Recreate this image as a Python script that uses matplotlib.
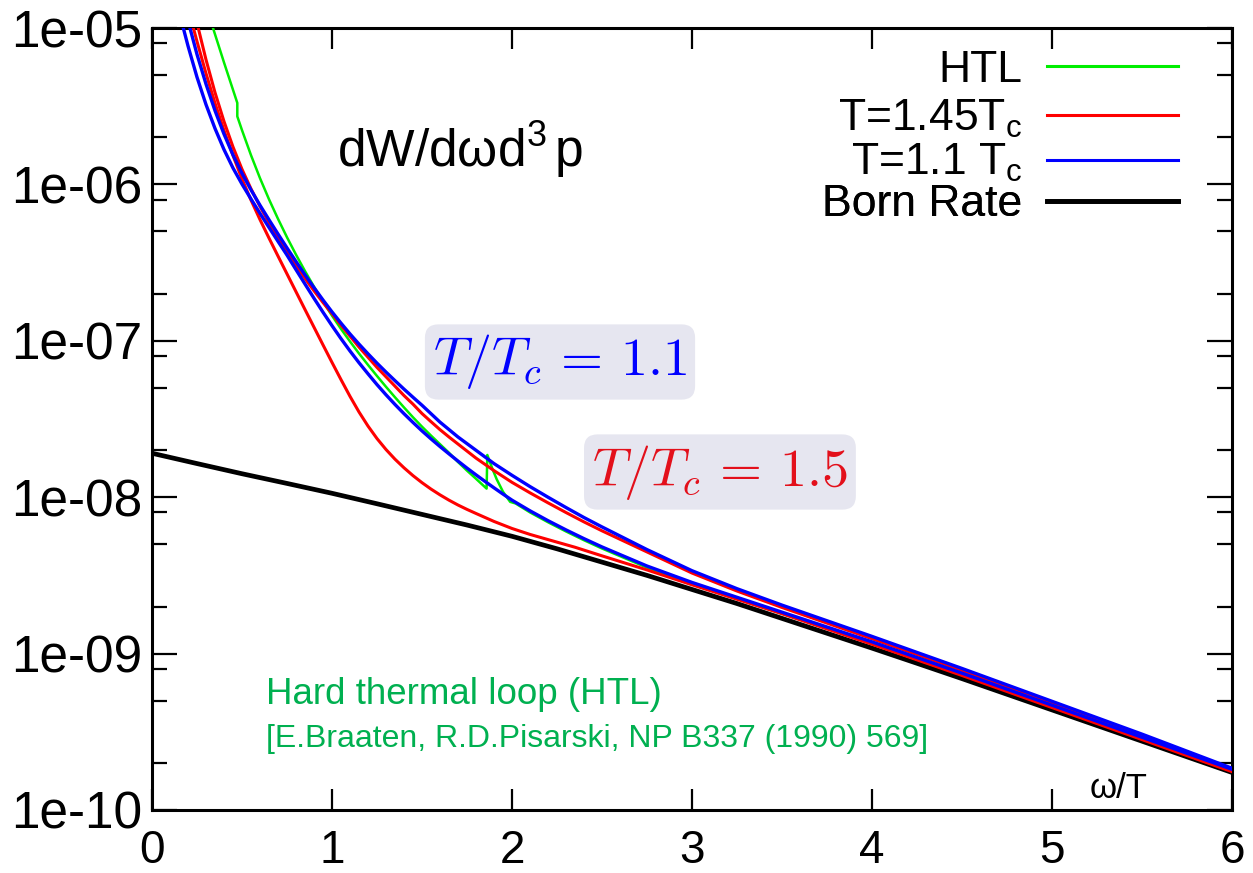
import numpy as np
import matplotlib
matplotlib.use('Agg')
import matplotlib.pyplot as plt
from matplotlib.lines import Line2D
from matplotlib.ticker import FixedLocator, LogLocator, NullFormatter

plt.rcParams['font.family'] = ['Liberation Sans', 'DejaVu Sans']
plt.rcParams['mathtext.fontset'] = 'custom'
plt.rcParams['mathtext.rm'] = 'Liberation Sans'
plt.rcParams['mathtext.it'] = 'Liberation Sans:italic'
plt.rcParams['mathtext.bf'] = 'Liberation Sans:bold'

# all rates given as log10(dW/dw d3p)
born_x = [0, 0.25, 0.5, 0.75, 1, 1.25, 1.5, 1.75, 2, 2.25, 2.5, 2.75, 3,
          3.25, 3.5, 3.75, 4, 4.25, 4.5, 4.75, 5, 5.25, 5.5, 5.75, 6]
born_log = [-7.719, -7.785, -7.85, -7.912, -7.975, -8.042, -8.11, -8.178,
            -8.25, -8.33, -8.415, -8.50, -8.59, -8.68, -8.775, -8.87, -8.965,
            -9.062, -9.16, -9.26, -9.36, -9.46, -9.56, -9.66, -9.76]

# HTL: small kink near 0.47, spike near 1.86
htl_x = [0.3, 0.339, 0.4, 0.474, 0.474, 0.5, 0.55, 0.6, 0.65, 0.7, 0.75, 0.8,
         0.85, 0.9, 0.95, 1.0, 1.05, 1.1, 1.15, 1.2, 1.25, 1.3, 1.35, 1.4,
         1.45, 1.5, 1.55, 1.6, 1.65, 1.7, 1.75, 1.8, 1.859, 1.863, 1.89,
         1.915, 1.95, 1.99, 2.02, 2.1, 2.2, 2.3, 2.4, 2.5, 2.75, 3, 3.5, 4,
         4.5, 5, 5.5, 6]
htl_log = [-4.85, -5.0, -5.22, -5.479, -5.565, -5.653, -5.813, -5.96, -6.095,
           -6.22, -6.338, -6.449, -6.554, -6.654, -6.749, -6.839, -6.924,
           -7.004, -7.081, -7.154, -7.225, -7.294, -7.361, -7.426, -7.489,
           -7.549, -7.606, -7.661, -7.716, -7.775, -7.83, -7.882, -7.945,
           -7.73, -7.815, -7.885, -7.965, -8.03, -8.04, -8.097, -8.16, -8.219,
           -8.275, -8.328, -8.45, -8.555, -8.745, -8.935, -9.135, -9.34,
           -9.545, -9.75]

# T = 1.45 Tc (two curves)
red_lo_x = [0.2, 0.23, 0.25, 0.3, 0.35, 0.4, 0.45, 0.5, 0.55, 0.6, 0.65, 0.7,
            0.75, 0.8, 0.85, 0.9, 0.95, 1.0, 1.05, 1.1, 1.15, 1.2, 1.25, 1.3,
            1.35, 1.4, 1.45, 1.5, 1.55, 1.6, 1.65, 1.7, 1.75, 1.8, 1.9, 2.0,
            2.1, 2.2, 2.35, 2.5, 2.75, 3.0, 3.5, 4.0, 4.5, 5.0, 5.5, 6.0]
red_lo_log = [-4.87, -5.0, -5.085, -5.29, -5.48, -5.655, -5.815, -5.965, -6.1,
              -6.225, -6.343, -6.458, -6.572, -6.686, -6.8, -6.913, -7.026,
              -7.138, -7.248, -7.355, -7.455, -7.545, -7.625, -7.695, -7.757,
              -7.812, -7.862, -7.907, -7.948, -7.985, -8.019, -8.05, -8.078,
              -8.104, -8.155, -8.2, -8.238, -8.271, -8.32, -8.375, -8.465,
              -8.56, -8.745, -8.94, -9.14, -9.345, -9.55, -9.755]
red_hi_x = [0.2, 0.257, 0.3, 0.35, 0.4, 0.45, 0.5, 0.55, 0.6, 0.65, 0.7, 0.75,
            0.8, 0.85, 0.9, 0.95, 1.0, 1.05, 1.1, 1.15, 1.2, 1.25, 1.3, 1.35,
            1.4, 1.45, 1.5, 1.55, 1.6, 1.65, 1.7, 1.8, 1.9, 2.0, 2.1, 2.2, 2.3,
            2.4, 2.5, 2.75, 3.0, 3.25, 3.5, 4.0, 4.5, 5.0, 5.5, 6.0]
red_hi_log = [-4.74, -5.0, -5.202, -5.412, -5.597, -5.76, -5.903, -6.028,
              -6.141, -6.244, -6.34, -6.431, -6.518, -6.601, -6.68, -6.755,
              -6.826, -6.9, -6.97, -7.04, -7.105, -7.17, -7.23, -7.29, -7.35,
              -7.405, -7.465, -7.517, -7.568, -7.615, -7.66, -7.75, -7.83,
              -7.905, -7.972, -8.036, -8.098, -8.158, -8.215, -8.35, -8.485,
              -8.6, -8.705, -8.905, -9.108, -9.315, -9.525, -9.74]

# T = 1.1 Tc (two curves)
blue_lo_x = [0.15, 0.174, 0.2, 0.25, 0.3, 0.35, 0.4, 0.45, 0.5, 0.55, 0.6,
             0.65, 0.7, 0.75, 0.8, 0.85, 0.9, 0.95, 1.0, 1.05, 1.1, 1.15, 1.2,
             1.25, 1.3, 1.35, 1.4, 1.45, 1.5, 1.55, 1.6, 1.65, 1.7, 1.75, 1.8,
             1.85, 1.9, 1.95, 2.0, 2.1, 2.2, 2.3, 2.4, 2.5, 2.75, 3.0, 3.5,
             4.0, 4.5, 5.0, 5.5, 6.0]
blue_lo_log = [-4.88, -5.0, -5.114, -5.314, -5.489, -5.642, -5.777, -5.895,
               -5.998, -6.093, -6.185, -6.275, -6.364, -6.452, -6.545, -6.637,
               -6.728, -6.817, -6.903, -6.986, -7.065, -7.14, -7.211, -7.28,
               -7.345, -7.407, -7.466, -7.522, -7.576, -7.627, -7.676, -7.723,
               -7.769, -7.814, -7.857, -7.899, -7.94, -7.98, -8.019, -8.087,
               -8.15, -8.209, -8.265, -8.318, -8.44, -8.545, -8.735, -8.925,
               -9.125, -9.33, -9.535, -9.74]
blue_hi_x = [0.17, 0.211, 0.25, 0.3, 0.35, 0.4, 0.45, 0.5, 0.55, 0.6, 0.65,
             0.7, 0.75, 0.8, 0.85, 0.9, 0.95, 1.0, 1.05, 1.1, 1.15, 1.2, 1.25,
             1.3, 1.35, 1.4, 1.45, 1.5, 1.55, 1.6, 1.7, 1.8, 1.9, 2.0, 2.1,
             2.2, 2.3, 2.4, 2.5, 2.75, 3.0, 3.25, 3.5, 4.0, 4.5, 5.0, 5.5, 6.0]
blue_hi_log = [-4.8, -5.0, -5.168, -5.358, -5.528, -5.678, -5.811, -5.929,
               -6.035, -6.133, -6.226, -6.317, -6.406, -6.493, -6.578, -6.66,
               -6.739, -6.815, -6.887, -6.956, -7.021, -7.083, -7.143, -7.2,
               -7.255, -7.309, -7.361, -7.412, -7.466, -7.52, -7.615, -7.70,
               -7.785, -7.86, -7.932, -8.0, -8.066, -8.13, -8.19, -8.335,
               -8.47, -8.585, -8.69, -8.89, -9.095, -9.305, -9.515, -9.733]

x_ticks = [0, 1, 2, 3, 4, 5, 6]
y_ticks = [1e-10, 1e-09, 1e-08, 1e-07, 1e-06, 1e-05]
y_tick_labels = ['1e-10', '1e-09', '1e-08', '1e-07', '1e-06', '1e-05']

fig = plt.figure(figsize=(12.53, 8.73), dpi=100)
ax = fig.add_axes([0.1213, 0.0722, 0.8619, 0.8957])

ax.plot(born_x, 10 ** np.array(born_log), color='black', lw=3.4, zorder=2)
ax.plot(htl_x, 10 ** np.array(htl_log), color='#00ee00', lw=1.8, zorder=3)
ax.plot(red_lo_x, 10 ** np.array(red_lo_log), color='#ff0000', lw=2.2, zorder=4)
ax.plot(red_hi_x, 10 ** np.array(red_hi_log), color='#ff0000', lw=2.2, zorder=4)
ax.plot(blue_lo_x, 10 ** np.array(blue_lo_log), color='#0000ff', lw=2.4, zorder=5)
ax.plot(blue_hi_x, 10 ** np.array(blue_hi_log), color='#0000ff', lw=2.4, zorder=5)

ax.set_yscale('log')
ax.set_xlim(0, 6)
ax.set_ylim(1e-10, 1e-05)
ax.set_xticks(x_ticks)
ax.set_xticklabels([str(t) for t in x_ticks])
ax.yaxis.set_major_locator(FixedLocator(y_ticks))
ax.set_yticklabels(y_tick_labels)
ax.yaxis.set_minor_locator(LogLocator(base=10, subs=[2, 5, 8]))
ax.yaxis.set_minor_formatter(NullFormatter())

for s in ax.spines.values():
    s.set_linewidth(2.2)
ax.tick_params(axis='both', which='both', direction='in', top=True, right=True,
               width=1.6)
ax.tick_params(axis='x', which='major', length=15, pad=14, labelsize=33)
ax.tick_params(axis='y', which='major', length=18, pad=7, labelsize=37)
ax.tick_params(axis='y', which='minor', length=11)
ax.tick_params(axis='x', which='minor', bottom=False, top=False)

# key: one row per legend so the rows sit evenly like the gnuplot key
keys = [(Line2D([], [], color='#00ee00', lw=2.2), 'HTL', 0.946),
        (Line2D([], [], color='#ff0000', lw=2.2), r'T=1.45T$_{\mathregular{c}}$', 0.884),
        (Line2D([], [], color='#0000ff', lw=2.2), r'T=1.1 T$_{\mathregular{c}}$', 0.827),
        (Line2D([], [], color='black', lw=3.4), 'Born Rate', 0.774)]
for h, lab, ky in keys:
    leg = ax.legend([h], [lab], loc='center right', bbox_to_anchor=(0.95, ky),
                    frameon=False, markerfirst=False, fontsize=32,
                    handlelength=2.95, handletextpad=0.55, borderpad=0,
                    borderaxespad=0)
    ax.add_artist(leg)

ax.text(0.171, 0.822, r'dW/d$\mathregular{\omega}$d$^{\mathregular{3}}\,$p',
        transform=ax.transAxes, fontsize=37, ha='left', va='baseline')
ax.text(0.8685, 0.0153, 'ω/T', transform=ax.transAxes, fontsize=25,
        ha='left', va='baseline')

box = dict(boxstyle='round,pad=0.15,rounding_size=0.25', facecolor='#e6e6f0',
           edgecolor='none')
ax.text(0.3778, 0.5729, r'$T/T_c\,=\,1.1$', transform=ax.transAxes,
        fontsize=39, color='#0000ff', ha='center', va='center',
        math_fontfamily='cm', bbox=box, zorder=6)
ax.text(0.5259, 0.4322, r'$T/T_c\,=\,1.5$', transform=ax.transAxes,
        fontsize=39, color='#e3101b', ha='center', va='center',
        math_fontfamily='cm', bbox=box, zorder=6)

ax.text(0.1056, 0.1355, 'Hard thermal loop (HTL)', transform=ax.transAxes,
        fontsize=26.5, color='#00b050', ha='left', va='baseline')
ax.text(0.1056, 0.0806, '[E.Braaten, R.D.Pisarski, NP B337 (1990) 569]',
        transform=ax.transAxes, fontsize=23, color='#00b050', ha='left',
        va='baseline')

fig.savefig('out.png', dpi=100)
